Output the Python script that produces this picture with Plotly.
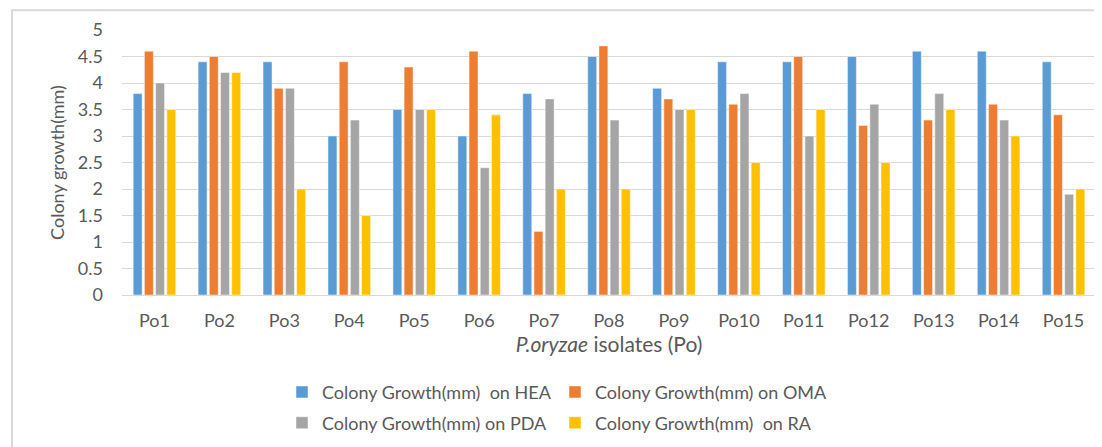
import plotly.graph_objects as go

categories = ["Po1", "Po2", "Po3", "Po4", "Po5", "Po6", "Po7", "Po8", "Po9", "Po10",
              "Po11", "Po12", "Po13", "Po14", "Po15"]
hea = [3.8, 4.4, 4.4, 3.0, 3.5, 3.0, 3.8, 4.5, 3.9, 4.4, 4.4, 4.5, 4.6, 4.6, 4.4]
oma = [4.6, 4.5, 3.9, 4.4, 4.3, 4.6, 1.2, 4.7, 3.7, 3.6, 4.5, 3.2, 3.3, 3.6, 3.4]
pda = [4.0, 4.2, 3.9, 3.3, 3.5, 2.4, 3.7, 3.3, 3.5, 3.8, 3.0, 3.6, 3.8, 3.3, 1.9]
ra = [3.5, 4.2, 2.0, 1.5, 3.5, 3.4, 2.0, 2.0, 3.5, 2.5, 3.5, 2.5, 3.5, 3.0, 2.0]
y_ticks = [0, 0.5, 1, 1.5, 2, 2.5, 3, 3.5, 4, 4.5, 5]

series = [
    ("Colony Growth(mm)\u00a0 on HEA", hea, "#5B9BD5", "legend"),
    ("Colony Growth(mm) on OMA", oma, "#ED7D31", "legend"),
    ("Colony Growth(mm) on PDA", pda, "#A5A5A5", "legend2"),
    ("Colony Growth(mm)\u00a0 on RA", ra, "#FFC000", "legend2"),
]

fig = go.Figure()
for name, vals, color, lg in series:
    fig.add_trace(go.Bar(
        x=categories, y=vals, name=name, legend=lg,
        marker=dict(color=color, line=dict(color="rgba(255,255,255,0.6)", width=0.8)),
    ))

# page is rendered inside an 8px body margin, so the figure is 8px smaller
W, H = 1094, 439
L, T, PW, PH = 114, 22, 974, 267
font_family = "Lato, Open Sans, sans-serif"
legend_common = dict(orientation="h", xanchor="left", yanchor="middle",
                     font=dict(size=18, color="#595959", family=font_family),
                     entrywidth=228, entrywidthmode="pixels", itemwidth=30,
                     bgcolor="rgba(0,0,0,0)")
fig.update_layout(
    width=W, height=H,
    margin=dict(l=L, r=W - L - PW, t=T, b=H - T - PH),
    paper_bgcolor="white", plot_bgcolor="white",
    barmode="group", bargap=0.31, bargroupgap=0.2,
    font=dict(family=font_family, color="#595959", size=18),
    legend=dict(x=(274 - L) / PW, y=-(395 - 8 - T - PH) / PH, **legend_common),
    legend2=dict(x=(274 - L) / PW, y=-(426 - 8 - T - PH) / PH, **legend_common),
    showlegend=True,
    shapes=[dict(type="rect", xref="paper", yref="paper",
                 x0=(4 - L) / PW, x1=1.2, y0=-1.0, y1=(T + PH - 2) / PH,
                 line=dict(color="#D9D9D9", width=2), fillcolor="rgba(0,0,0,0)", layer="below")],
)
fig.update_yaxes(
    range=[0, 5], tickvals=y_ticks, ticktext=[f"{v:g}" for v in y_ticks],
    showgrid=True, gridcolor="#D9D9D9", gridwidth=1, zeroline=False,
    showline=False, ticks="", ticklabelstandoff=18,
    tickfont=dict(size=18, color="#595959"),
    title=dict(text="Colony growth(mm)", font=dict(size=18, color="#595959"), standoff=8),
)
fig.update_xaxes(
    showline=True, linecolor="#D9D9D9", linewidth=1, ticks="", ticklabelstandoff=9,
    tickfont=dict(size=18, color="#595959"),
    title=dict(text="<i>P.oryzae</i> isolates (Po)", font=dict(size=21, color="#595959"), standoff=6),
)
fig.write_html("out.html")
